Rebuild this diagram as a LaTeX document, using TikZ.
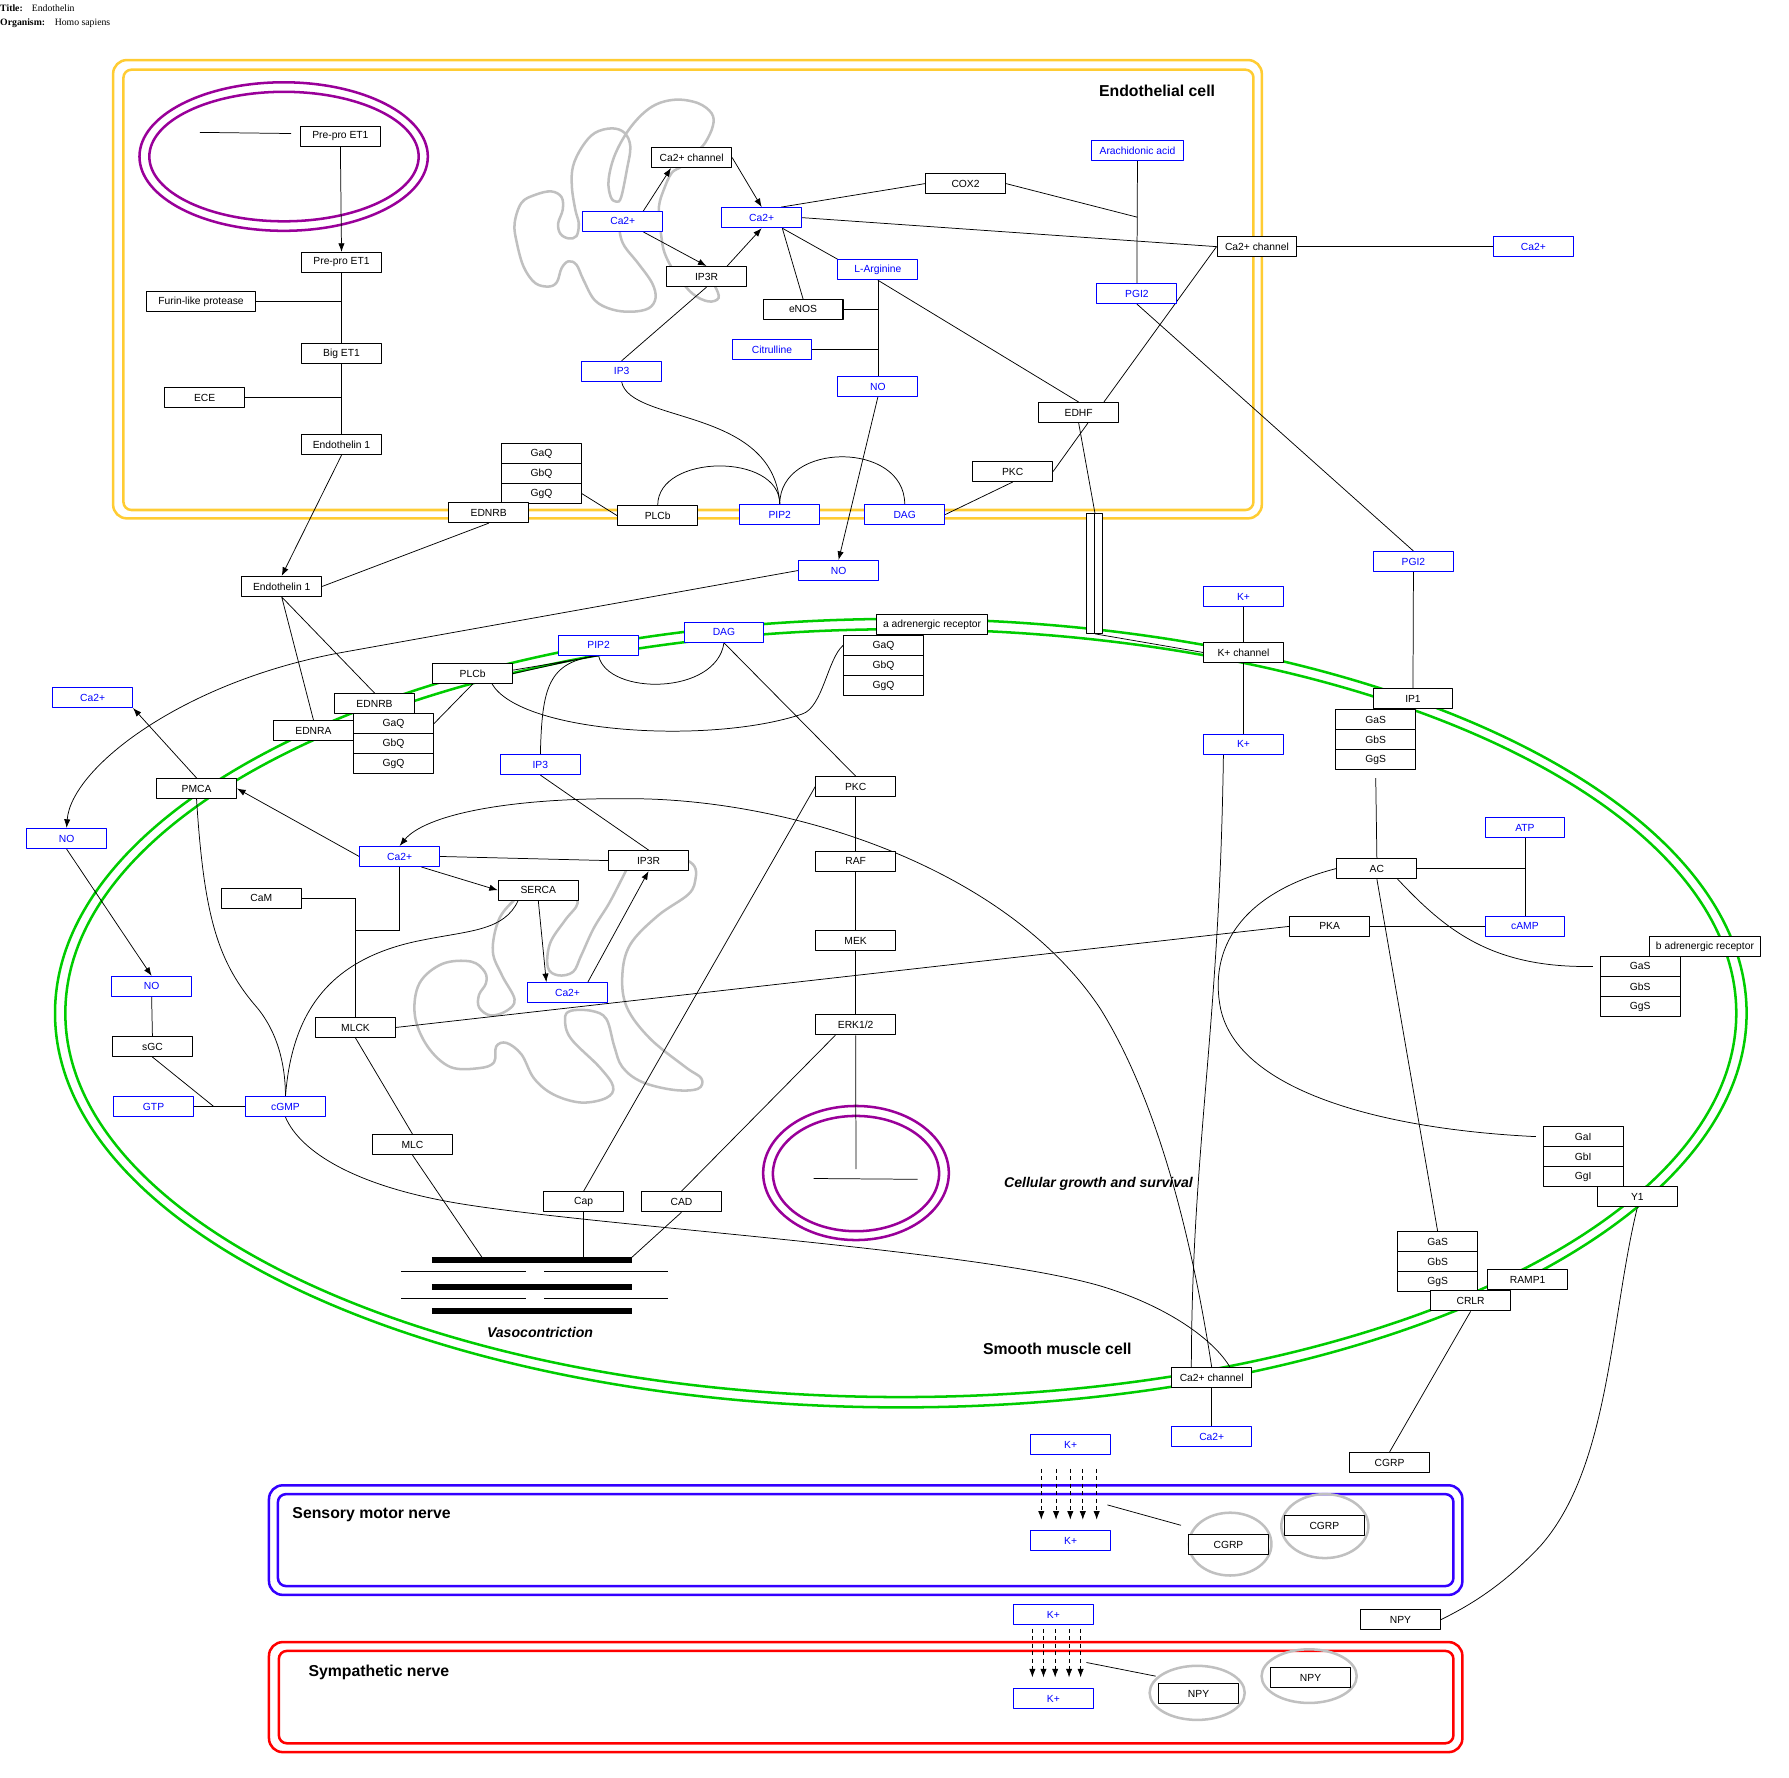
\documentclass[tikz,border=0pt]{standalone}
\usepackage{fontspec}
\setmainfont{Liberation Sans}
\newfontfamily\titlefont{Liberation Serif}
\usetikzlibrary{arrows.meta,calc}
\definecolor{endoyellow}{RGB}{255,204,51}
\definecolor{smcgreen}{RGB}{0,204,0}
\definecolor{nucpurple}{RGB}{153,0,153}
\definecolor{nerveblue}{RGB}{51,0,255}
\definecolor{ergray}{RGB}{192,192,192}
\pgfdeclarelayer{back}
\pgfdeclarelayer{edges}
\pgfsetlayers{back,edges,main}
\begin{document}
\begin{tikzpicture}[x=1pt,y=-1pt,line join=round]
      \tikzstyle{prot}=[draw, fill=white, line width=0.9pt, minimum width=69.7pt, minimum height=17.5pt, inner sep=0pt, font=\fontsize{9}{10}\selectfont]
      \tikzstyle{mol}=[prot, draw=blue, text=blue]
      \tikzstyle{link}=[line width=0.65pt]
      \tikzstyle{arr}=[link, -{Latex[length=7.5pt,width=5.5pt]}]
      \tikzstyle{dasharr}=[arr, dash pattern=on 3.5pt off 3pt]
      \tikzstyle{memb}=[line width=2.2pt]
      \tikzstyle{erline}=[line width=2.2pt, color=ergray]
      \tikzstyle{celllabel}=[inner sep=0pt, font=\fontsize{13.8}{16}\selectfont\bfseries]
      \tikzstyle{notelabel}=[inner sep=0pt, font=\fontsize{12.3}{14}\selectfont\bfseries\itshape]
      \tikzstyle{titletext}=[anchor=west, inner sep=0pt, font=\titlefont\fontsize{8.5}{10}\selectfont]

      \useasboundingbox (0,0) rectangle (1561,1551);

      % title
      \node[titletext] (ttlA) at (0,7.3) {\textbf{Title:}};
      \node[titletext] (ttlB) at (27.6,7.3) {Endothelin};
      \node[titletext] (orgA) at (0,20) {\textbf{Organism:}};
      \node[titletext] (orgB) at (47.6,20) {Homo sapiens};

      % endothelial cell
      \path (297,119) node[prot] (pp1) {Pre-pro ET1};
      \path (298,229) node[prot] (pp2) {Pre-pro ET1};
      \path (175.4,263) node[prot, minimum width=95.2pt] (furin) {Furin-like protease};
      \path (298,308.4) node[prot] (bigET) {Big ET1};
      \path (178.6,346.8) node[prot] (ece) {ECE};
      \path (298,388) node[prot] (etA) {Endothelin 1};
      \foreach \lab [count=\i] in {GaQ, GbQ, GgQ}
      {
        \path (472.5, 378.25+17.5*\i) node[prot] (gqa\i) {\lab};
      }
      \path (426.4,447.3) node[prot] (ednrbA) {EDNRB};
      \path (573.9,450) node[prot] (plcbA) {PLCb};
      \path (680.4,449) node[mol] (pipA) {PIP2};
      \path (789.4,449) node[mol] (dagA) {DAG};
      \path (883.6,411.4) node[prot] (pkcA) {PKC};
      \path (941.2,360) node[prot] (edhf) {EDHF};
      \path (766,337.2) node[mol] (noA) {NO};
      \path (673.6,305) node[mol] (citr) {Citrulline};
      \path (700.7,270) node[prot] (enos) {eNOS};
      \path (766,235.3) node[mol] (larg) {L-Arginine};
      \path (616.5,241.3) node[prot] (ipr3A) {IP3R};
      \path (542.4,324) node[mol] (ip3A) {IP3};
      \path (543.4,193.2) node[mol] (caA1) {Ca2+};
      \path (603.5,137.4) node[prot] (chA) {Ca2+ channel};
      \path (664.6,189.9) node[mol] (caA2) {Ca2+};
      \path (842.5,160.2) node[prot] (cox) {COX2};
      \path (992.5,131.4) node[mol, minimum width=81pt] (arach) {Arachidonic acid};
      \path (992,256.1) node[mol] (pgiA) {PGI2};
      \path (1096.8,215.2) node[prot] (chB) {Ca2+ channel};
      \path (1338,215.2) node[mol] (caFar) {Ca2+};

      % between the cells
      \path (1233.3,490) node[mol] (pgiB) {PGI2};
      \path (731.7,497.8) node[mol] (noB) {NO};
      \path (245.8,511.7) node[prot] (etB) {Endothelin 1};
      \path (1085,520.5) node[mol] (kA) {K+};
      \path (951.4,500.25) node[prot, minimum width=7pt, minimum height=104.7pt] (gj1) {};
      \path (958.4,500.25) node[prot, minimum width=7pt, minimum height=104.7pt] (gj2) {};

      % smooth muscle cell
      \path (80.8,608.6) node[mol] (caOut) {Ca2+};
      \foreach \lab [count=\i] in {GaQ, GbQ, GgQ}
      {
        \path (343.3, 613.95+17.5*\i) node[prot] (gqb\i) {\lab};
      }
      \path (326.8,613.9) node[prot] (ednrbB) {EDNRB};
      \path (273.5,637.4) node[prot] (ednra) {EDNRA};
      \path (412.4,587.7) node[prot] (plcbB) {PLCb};
      \path (522.3,563) node[mol] (pipB) {PIP2};
      \path (631.7,551.7) node[mol] (dagB) {DAG};
      \path (813.3,544.8) node[prot, minimum width=97pt] (adr) {a adrenergic receptor};
      \foreach \lab [count=\i] in {GaQ, GbQ, GgQ}
      {
        \path (770.9, 545.65+17.5*\i) node[prot] (gqc\i) {\lab};
      }
      \path (471.5,667.1) node[mol] (ip3B) {IP3};
      \path (171.5,688) node[prot] (pmca) {PMCA};
      \path (58.1,731.6) node[mol] (noOut) {NO};
      \path (746.6,686.4) node[prot] (pkcB) {PKC};
      \path (348.7,747.3) node[mol] (caB1) {Ca2+};
      \path (565.9,750.9) node[prot] (ipr3B) {IP3R};
      \path (228,783.9) node[prot] (cam) {CaM};
      \path (469.7,776.8) node[prot] (serca) {SERCA};
      \path (746.6,751.6) node[prot] (raf) {RAF};
      \path (746.6,820.6) node[prot] (mek) {MEK};
      \path (746.6,894.1) node[prot] (erk) {ERK1/2};
      \path (495.2,866.2) node[mol] (caB2) {Ca2+};
      \path (132.3,860.7) node[mol] (noC) {NO};
      \path (310.2,896.5) node[prot] (mlck) {MLCK};
      \path (133,913.1) node[prot] (sgc) {sGC};
      \path (134,965.6) node[mol] (gtp) {GTP};
      \path (249.1,965.6) node[mol] (cgmp) {cGMP};
      \path (359.9,998.7) node[prot] (mlc) {MLC};
      \path (509.2,1048.6) node[prot] (cap) {Cap};
      \path (594.6,1048.6) node[prot] (cad) {CAD};
      \path (1057.3,1202.3) node[prot] (chC) {Ca2+ channel};
      \path (1057.3,1253.4) node[mol] (caC) {Ca2+};
      \path (1085,569.3) node[prot] (kch) {K+ channel};
      \path (1085,649.5) node[mol] (kB) {K+};
      \path (1232.9,609.6) node[prot] (ip1) {IP1};
      \foreach \lab [count=\i] in {GaS, GbS, GgS}
      {
        \path (1200.4, 610.25+17.5*\i) node[prot] (gsa\i) {\lab};
      }
      \path (1330.6,722.2) node[mol] (atp) {ATP};
      \path (1201.4,757.8) node[prot] (ac) {AC};
      \path (1160.2,808.3) node[prot] (pka) {PKA};
      \path (1330.6,808.3) node[mol] (camp) {cAMP};
      \path (1487.7,825.8) node[prot, minimum width=97.3pt] (badr) {b adrenergic receptor};
      \foreach \lab [count=\i] in {GaS, GbS, GgS}
      {
        \path (1431.2, 825.75+17.5*\i) node[prot] (gsb\i) {\lab};
      }
      \foreach \lab [count=\i] in {GaI, GbI, GgI}
      {
        \path (1381.4, 974.25+17.5*\i) node[prot] (gia\i) {\lab};
      }
      \path (1428.7,1044.2) node[prot] (y1) {Y1};
      \foreach \lab [count=\i] in {GaS, GbS, GgS}
      {
        \path (1254.4, 1065.95+17.5*\i) node[prot] (gsc\i) {\lab};
      }
      \path (1332.9,1116.5) node[prot] (ramp) {RAMP1};
      \path (1283.2,1135) node[prot] (crlr) {CRLR};
      \path (1212.5,1276.1) node[prot] (cgrpA) {CGRP};
      \path (1222,1413.2) node[prot] (npyA) {NPY};

      % nerves
      \path (934.2,1260.4) node[mol] (kC) {K+};
      \path (934.2,1344.2) node[mol] (kD) {K+};
      \path (1071.9,1347.9) node[prot] (cgrpB) {CGRP};
      \path (1155.6,1331.1) node[prot] (cgrpC) {CGRP};
      \path (919.1,1409) node[mol] (kE) {K+};
      \path (919.1,1482.3) node[mol] (kF) {K+};
      \path (1045.8,1477.9) node[prot] (npyB) {NPY};
      \path (1143.5,1463.9) node[prot] (npyC) {NPY};

      % labels
      \node[celllabel] (lblEndo) at (1009.6,79.1) {Endothelial cell};
      \node[celllabel] (lblSmc) at (922.6,1177.3) {Smooth muscle cell};
      \node[celllabel, anchor=west] (lblSens) at (255,1321.8) {Sensory motor nerve};
      \node[celllabel, anchor=west] (lblSym) at (269,1459.3) {Sympathetic nerve};
      \node[notelabel] (lblGrowth) at (958.5,1033.2) {Cellular growth and survival};
      \node[notelabel] (lblVaso) at (471.2,1162.7) {Vasocontriction};

      % contraction fibres
      \foreach \y in {1099.5, 1122.9, 1143.8}
        \draw[line width=5pt] (376.9,\y) -- (551.4,\y);
      \foreach \y in {1109.3, 1133}
      {
        \draw[link] (350,\y) -- (459,\y);
        \draw[link] (474.7,\y) -- (582.6,\y);
      }
      \coordinate (vmlc) at (420.5,1097);
      \coordinate (vcad) at (551.4,1097);
      \coordinate (nucA1) at (174.3,115.5);
      \coordinate (nucA2) at (254,116.5);
      \coordinate (nucEnd) at (746.9,1020.2);
      \coordinate (nucL) at (709.9,1028.3);
      \coordinate (nucR) at (800.7,1029);
      \coordinate (smA) at (966.3,1313.1);
      \coordinate (smB) at (1030.5,1330.9);
      \coordinate (syA) at (948,1450.6);
      \coordinate (syB) at (1008.3,1462.5);

      \begin{pgfonlayer}{back}
        % membranes
        \draw[memb, endoyellow, rounded corners=12pt] (98.7,52.4) rectangle (1101,452.3);
        \draw[memb, endoyellow, rounded corners=7pt] (107.7,60.8) rectangle (1093.7,445);
        \draw[memb, smcgreen] (786,884) ellipse [x radius=738pt, y radius=344pt];
        \draw[memb, smcgreen] (786,884) ellipse [x radius=729pt, y radius=335pt];
        \draw[memb, nucpurple] (247.5,136.6) ellipse [x radius=125.8pt, y radius=64.8pt];
        \draw[memb, nucpurple] (247.8,136.6) ellipse [x radius=117.5pt, y radius=56.5pt];
        \draw[memb, nucpurple] (746.9,1023.5) ellipse [x radius=81pt, y radius=58.5pt];
        \draw[memb, nucpurple] (746.9,1024) ellipse [x radius=72.5pt, y radius=50.3pt];
        \draw[memb, nerveblue, rounded corners=12pt] (234.7,1296) rectangle (1276,1391.6);
        \draw[memb, nerveblue, rounded corners=7pt] (242.5,1303.7) rectangle (1268.2,1383.9);
        \draw[memb, red, rounded corners=12pt] (234.7,1432.8) rectangle (1276,1528.8);
        \draw[memb, red, rounded corners=7pt] (243.3,1440.5) rectangle (1268.2,1521.1);
        % vesicles
        \draw[erline] (1073.4,1347.3) ellipse [x radius=36pt, y radius=27.4pt];
        \draw[erline] (1156,1331.6) ellipse [x radius=38pt, y radius=27.9pt];
        \draw[erline] (1044.6,1477.1) ellipse [x radius=41.5pt, y radius=23.6pt];
        \draw[erline] (1142.3,1462.5) ellipse [x radius=41.5pt, y radius=23.4pt];
        % endoplasmic reticulum
        \draw[erline] plot[smooth, tension=0.6] coordinates {(541,195) (541,204) (545,215) (557,230) (569,247) (572,260) (566,269) (551,272) (534,270) (519,262) (509,244) (503,231) (496,228) (490,234) (486,246) (479,250) (467,247) (457,233) (451,212) (449,195) (455,177) (467,170) (481,167) (490,172) (491,183) (487,195) (489,204) (496,208) (503,206) (505,195) (502,183) (499,163) (500,145) (508,128) (519,116) (534,112) (545,116) (550,128) (547,148) (542,172) (538,176) (533,172) (531,157) (537,134) (551,110) (569,93) (589,87) (609,90) (621,99) (622,110) (615,125) (606,134) (595,145) (586,151) (579,166) (575,180) (576,195) (577,206) (580,221) (589,238) (604,256) (618,263) (627,260) (624,250) (618,242)};
        \draw[erline] plot[smooth, tension=0.6] coordinates {(590,750) (598,750) (606,756) (607,766) (601,780) (574,799) (550,824) (543,851) (547,879) (567,906) (598,931) (612,941) (609,950) (588,951) (560,944) (543,931) (536,913) (529,889) (516,882) (498,882) (493,889) (498,906) (523,931) (535,948) (529,958) (507,962) (483,955) (466,941) (455,920) (442,910) (433,913) (431,927) (418,932) (393,931) (373,913) (362,886) (366,858) (386,841) (411,839) (423,848) (424,858) (418,868) (418,879) (428,886) (442,882) (449,872) (438,851) (430,830) (435,803) (448,786) (460,778) (495,778) (504,788) (493,803) (480,823) (478,844) (487,851) (500,848) (507,834) (518,810) (531,789) (541,770) (550,752)};
      \end{pgfonlayer}

      \begin{pgfonlayer}{edges}
        % endothelial cell
        \draw[link] (nucA1) -- (nucA2);
        \draw[arr] (pp1.south) -- (pp2.north);
        \draw[link] (pp2.south) -- (bigET.north) (bigET.south) -- (etA.north);
        \draw[link] (furin.east) -- (furin.east -| pp2.south);
        \draw[link] (ece.east) -- (ece.east -| bigET.south);
        \draw[arr] (etA.south) -- (etB.north);
        \draw[link] (ednrbA.south) -- (etB.east);
        \draw[link] (gqa3.east) -- (plcbA.west);
        \draw[link] (plcbA.north) .. controls +(0,-45) and +(0,-45) .. (pipA.north);
        \draw[link] (pipA.north) .. controls +(0,-55) and +(0,-55) .. (dagA.north);
        \draw[link] (ip3A.south) .. controls (550,370) and (675,355) .. (pipA.north);
        \draw[link] (ip3A.north) -- (ipr3A.south);
        \draw[arr] ([xshift=18pt]caA1.north) -- ([xshift=-18pt]chA.south);
        \draw[arr] (chA.east) -- (caA2.north);
        \draw[arr] ([xshift=18pt]caA1.south) -- (ipr3A.north);
        \draw[arr] ([xshift=18pt]ipr3A.north) -- (caA2.south);
        \draw[link] ([xshift=17pt]caA2.north) -- (cox.west);
        \draw[link] (caA2.east) -- (chB.west);
        \draw[link] ([xshift=18pt]caA2.south) -- (enos.north);
        \draw[link] ([xshift=18pt]caA2.south) -- (larg.north west);
        \draw[link] (larg.south) -- (noA.north);
        \draw[link] (enos.east) -- (enos.east -| larg.south);
        \draw[link] (citr.east) -- (citr.east -| larg.south);
        \draw[link] (larg.south) -- (edhf.north);
        \draw[link] (arach.south) -- (pgiA.north);
        \draw[link] (cox.east) -- ($(arach.south)!0.46!(pgiA.north)$);
        \draw[link] (chB.east) -- (caFar.west);
        \draw[link] (chB.west) -- ([xshift=22pt]edhf.north);
        \draw[link] (pkcA.east) -- ([xshift=8pt]edhf.south);
        \draw[link] (pkcA.south) -- (dagA.east);
        \draw[link] (edhf.south) -- (gj1.north east) (gj1.south east) -- (kch.west);
        \draw[arr] (noA.south) -- (noB.north);
        \draw[arr] (noB.west) -- (300,569) .. controls (160,594) and (62,670) .. (noOut.north);
        \draw[link] (pgiA.south) -- (pgiB.north);
        \draw[link] (pgiB.south) -- (ip1.north);
        \draw[link] (kA.south) -- (kch.north) (kch.south) -- (kB.north);
        \draw[link] ([xshift=-17.5pt]kB.south) .. controls (1064,900) and (1040,1000) .. ([xshift=-17.8pt]chC.north);
        \draw[link] (chC.south) -- (caC.north);

        % smooth muscle cell
        \draw[link] (etB.south) -- (ednrbB.north) (etB.south) -- (ednra.north);
        \draw[link] (gqb1.east) -- (plcbB.south);
        \draw[link] ([yshift=3pt]plcbB.east) -- (pipB.south) (plcbB.east) -- ([xshift=-4pt]pipB.south);
        \draw[link] (pipB.south) .. controls (530,607) and (625,607) .. (dagB.south);
        \draw[link] (pipB.south) .. controls (478,577) and (473,600) .. (ip3B.north);
        \draw[link] ([xshift=17pt]plcbB.south) .. controls (455,640) and (620,650) .. (700,623) .. controls (718,617) and (722,575) .. (gqc1.west);
        \draw[link] (dagB.south) -- (pkcB.north);
        \draw[link] (ip3B.south) -- (ipr3B.north);
        \draw[arr] (caB1.west) -- (pmca.east);
        \draw[arr] (pmca.north) -- (caOut.south east);
        \draw[link] (pmca.south) .. controls (178,800) and (190,840) .. (225,880) .. controls (245,905) and (249,935) .. (cgmp.north);
        \draw[link] (caB1.east) -- (ipr3B.west);
        \draw[arr] ([xshift=19pt]caB1.south) -- (serca.west);
        \draw[link] (caB1.south) -- ++(0,55) -| (mlck.north);
        \draw[link] (cam.east) -| (mlck.north);
        \draw[arr] (serca.south) -- ([xshift=-18.5pt]caB2.north);
        \draw[arr] ([xshift=17.7pt]caB2.north) -- (ipr3B.south);
        \draw[link] ([xshift=-17.7pt]serca.south) .. controls (440,812) and (410,812) .. (370,820) .. controls (290,835) and (255,880) .. (cgmp.north);
        \draw[link] (pkcB.south) -- (raf.north) (raf.south) -- (mek.north) (mek.south) -- (erk.north);
        \draw[link] (erk.south) -- (nucEnd);
        \draw[link] (nucL) -- (nucR);
        \draw[link] (pkcB.west) -- (cap.north);
        \draw[link] ([xshift=-17.7pt]erk.south) -- (cad.north);
        \draw[link] (cap.south) -- (cap.south |- vmlc);
        \draw[link] (cad.south) -- (vcad);
        \draw[link] (mlck.south) -- (mlc.north);
        \draw[link] (mlc.south) -- (vmlc);
        \draw[link] (mlck.east) -- (pka.west);
        \draw[arr] (noOut.south) -- (noC.north);
        \draw[link] (noC.south) -- (sgc.north);
        \draw[link] (gtp.east) -- (cgmp.west);
        \draw[link] (sgc.south) -- ($(gtp.east)!0.39!(cgmp.west)$);
        \draw[link] (cgmp.south) .. controls (262,1005) and (310,1035) .. (400,1050) .. controls (520,1070) and (850,1090) .. (960,1122) .. controls (1020,1140) and (1060,1170) .. ([xshift=16pt]chC.north);
        \draw[arr] (chC.north) .. controls (1040,1080) and (1010,960) .. (960,880) .. controls (880,760) and (700,700) .. (560,697) .. controls (440,695) and (370,712) .. (caB1.north);
        \draw[link] (pka.east) -- (camp.west);
        \draw[link] (ac.east) -- (ac.east -| atp.south);
        \draw[link] (atp.south) -- (camp.north);
        \draw[link] ([yshift=-7pt]gsa3.south) -- (ac.north);
        \draw[link] ([xshift=18pt]ac.south) .. controls (1260,810) and (1300,845) .. ([xshift=-6pt]gsb1.west);
        \draw[link] (ac.west) .. controls (1080,780) and (1055,830) .. (1065,880) .. controls (1080,950) and (1200,985) .. ([xshift=-6pt]gia1.west);
        \draw[link] (ac.south) -- (gsc1.north);
        \draw[link] (y1.south) .. controls (1405,1150) and (1405,1280) .. (1344,1349) .. controls (1310,1385) and (1280,1402) .. (npyA.east);
        \draw[link] (crlr.south) -- (cgrpA.north);

        % nerves
        \foreach \dx in {-25.6, -12.7, -0.3, 10.6, 22.7}
          \draw[dasharr] ([xshift=\dx pt, yshift=-12pt]kC.south) -- ([xshift=\dx pt, yshift=9pt]kD.north);
        \draw[link] (smA) -- (smB);
        \foreach \dx in {-18.3, -8.6, 1.6, 13.7, 23.8}
          \draw[dasharr] ([xshift=\dx pt, yshift=-3pt]kE.south) -- ([xshift=\dx pt, yshift=9.5pt]kF.north);
        \draw[link] (syA) -- (syB);
      \end{pgfonlayer}
    \end{tikzpicture}
\end{document}
